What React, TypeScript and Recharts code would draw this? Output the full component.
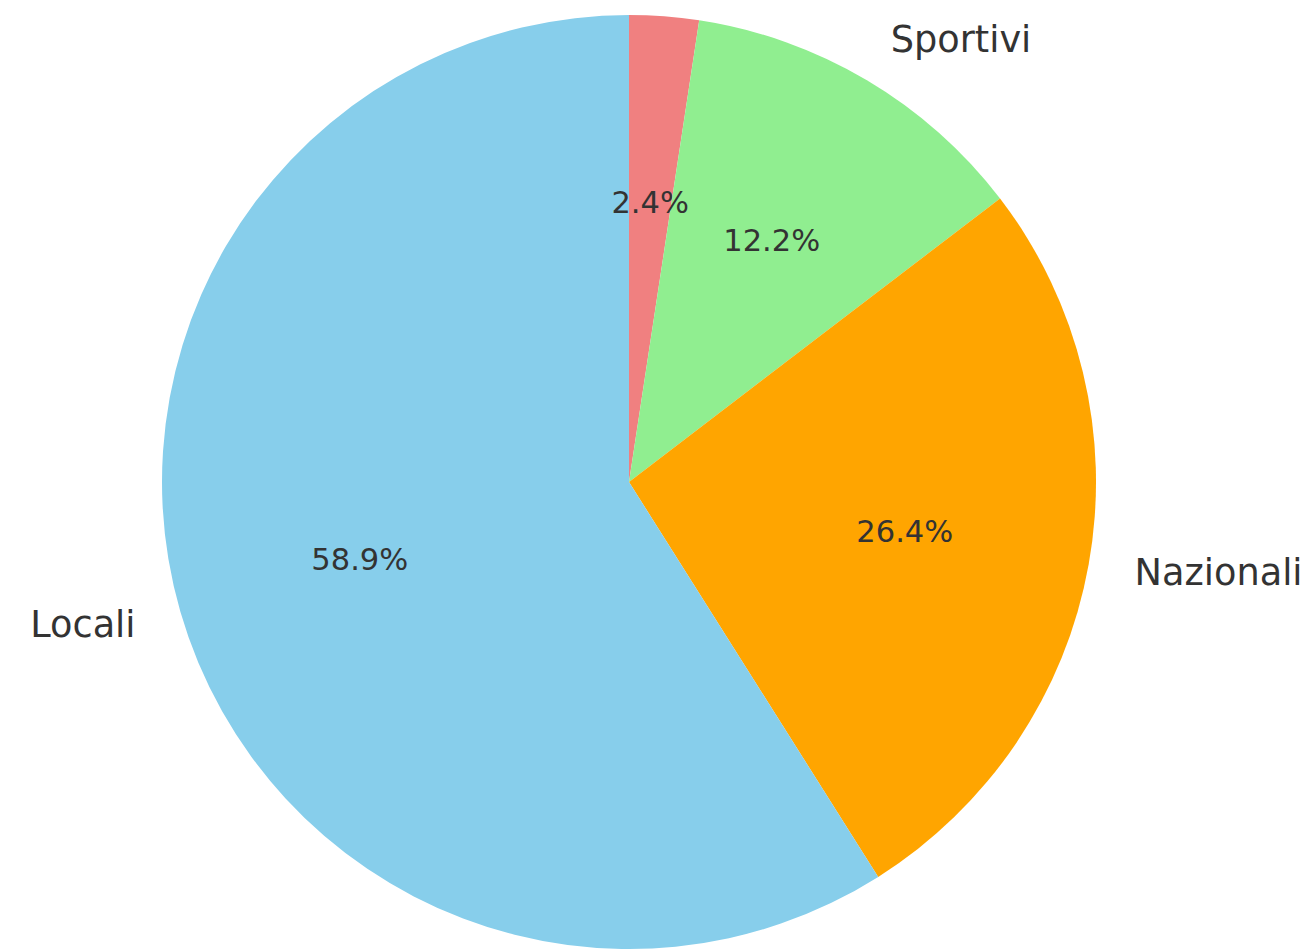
import { PieChart, Pie, Cell } from "recharts";

const categories = ["Altri", "Sportivi", "Nazionali", "Locali"];
const shares = [2.4, 12.2, 26.4, 58.9];
const colors = ["#f08080", "#90ee90", "#ffa500", "#87ceeb"];

const data = categories.map((name, i) => ({ name, value: shares[i] }));

const RADIAN = Math.PI / 180;
const TEXT = "#333333";
const FONT = "'DejaVu Sans', sans-serif";

const renderLabel = (props: any) => {
  const { cx, cy, midAngle, outerRadius, value, name } = props;
  const cos = Math.cos(-midAngle * RADIAN);
  const sin = Math.sin(-midAngle * RADIAN);
  const px = cx + outerRadius * 0.6 * cos;
  const py = cy + outerRadius * 0.6 * sin;
  const nx = cx + outerRadius * 1.1 * cos;
  const ny = cy + outerRadius * 1.1 * sin;
  return (
    <g>
      <text
        x={px}
        y={py}
        textAnchor="middle"
        dominantBaseline="central"
        fill={TEXT}
        fontSize={30.5}
        fontFamily={FONT}
      >
        {value.toFixed(1)}%
      </text>
      {ny > 0 && (
        <text
          x={nx}
          y={ny}
          textAnchor={cos >= 0 ? "start" : "end"}
          dominantBaseline="central"
          fill={TEXT}
          fontSize={36.7}
          fontFamily={FONT}
        >
          {name}
        </text>
      )}
    </g>
  );
};

export default function App() {
  return (
    <div style={{ position: "absolute", left: 0, top: 0, background: "#fff" }}>
      <PieChart width={1310} height={949} margin={{ top: 0, right: 0, bottom: 0, left: 0 }}>
        <Pie
          data={data}
          dataKey="value"
          nameKey="name"
          cx={629}
          cy={482}
          outerRadius={467}
          startAngle={90}
          endAngle={-270}
          stroke="none"
          labelLine={false}
          label={renderLabel}
          isAnimationActive={false}
        >
          {data.map((d, i) => (
            <Cell key={d.name} fill={colors[i]} />
          ))}
        </Pie>
      </PieChart>
    </div>
  );
}
